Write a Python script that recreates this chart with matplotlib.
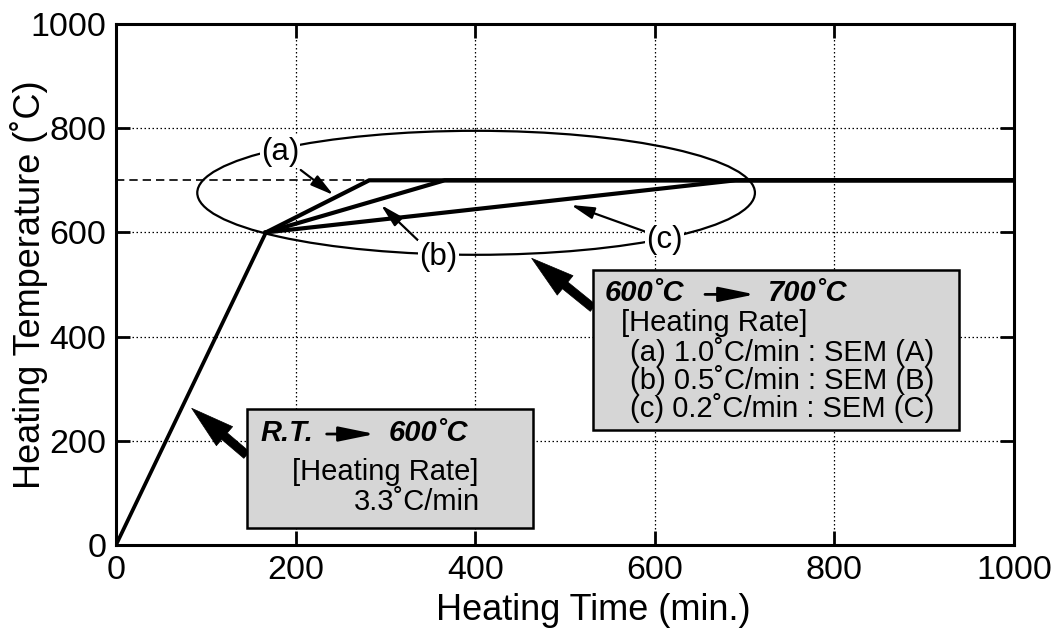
import matplotlib
matplotlib.use('Agg')
import matplotlib.pyplot as plt
from matplotlib.patches import Ellipse, Rectangle, FancyArrowPatch

plt.rcParams['font.family'] = ['Liberation Sans', 'DejaVu Sans']

# ---- data ----
rt_time = [0, 167]            # R.T. -> 600 C
rt_temp = [0, 600]
ramp_start_time = 167
ramp_start_temp = 600
hold_temp = 700
reach_hold_times = [282, 366, 690]   # (a) 1.0, (b) 0.5, (c) 0.2 C/min
hold_end_time = 1000
branch_labels = ['(a)', '(b)', '(c)']
x_ticks = [0, 200, 400, 600, 800, 1000]
y_ticks = [0, 200, 400, 600, 800, 1000]

W, H = 1058, 630
fig = plt.figure(figsize=(W / 100, H / 100), dpi=100)
ax = fig.add_axes([116 / W, 1 - 545 / H, 898 / W, 521 / H])
ax.set_xlim(0, 1000)
ax.set_ylim(0, 1000)
ax.set_xticks(x_ticks)
ax.set_yticks(y_ticks)

for s in ax.spines.values():
    s.set_linewidth(2.2)
    s.set_zorder(10)
ax.tick_params(direction='in', length=10, width=2, top=True, right=True,
               labelsize=24.5, pad=7)
ax.grid(True, color='k', linestyle=(0, (1.2, 2.0)), linewidth=0.9, zorder=0)
ax.set_axisbelow(True)

ax.set_xlabel('Heating Time (min.)', fontsize=26)
ax.set_ylabel('Heating Temperature (˚C)', fontsize=26)
ax.xaxis.set_label_coords(0.532, -0.092)
ax.yaxis.set_label_coords(-0.076, 0.5)

# ---- curves ----
ax.plot(rt_time, rt_temp, color='k', lw=2.7, solid_capstyle='butt', zorder=4)
for t in reach_hold_times:
    ax.plot([ramp_start_time, t, hold_end_time], [ramp_start_temp, hold_temp, hold_temp],
            color='k', lw=3.0, solid_joinstyle='miter', zorder=4)
ax.plot([0, reach_hold_times[0]], [hold_temp, hold_temp], color='k', lw=1.2,
        linestyle=(0, (5, 3)), zorder=3)

# ---- ellipse ----
ax.add_patch(Ellipse((401, 676), 621, 238, fill=False, lw=1.6, ec='k', zorder=3))

# ---- branch labels with arrows ----
label_pos = [(182.6, 754), (359.4, 553.4), (611, 585.4)]
arrow_tail = [(205.7, 719.8), (335.9, 585.4), (589.6, 601.3)]
arrow_tip = [(242.1, 671.8), (295.1, 652.6), (506.7, 652.6)]
for lab, p, a0, a1 in zip(branch_labels, label_pos, arrow_tail, arrow_tip):
    ax.text(p[0], p[1], lab, fontsize=22.5, ha='center', va='center', zorder=6,
            bbox=dict(boxstyle='square,pad=0.04', fc='white', ec='none'))
    ax.annotate('', xy=a1, xytext=a0, zorder=5,
                arrowprops=dict(arrowstyle='-|>,head_length=1.4,head_width=0.36',
                                mutation_scale=10, lw=1.6, color='k',
                                shrinkA=0, shrinkB=0))

# ---- boxes ----
box_fc = '#d6d6d6'
ax.add_patch(Rectangle((145.6, 33.4), 464.4 - 145.6, 261.9 - 33.4, fc=box_fc,
                       ec='k', lw=1.8, zorder=7))
ax.add_patch(Rectangle((531.5, 221.3), 938.8 - 531.5, 528 - 221.3, fc=box_fc,
                       ec='k', lw=1.8, zorder=7))

# big arrows to boxes
for tail, tip in [((531.2, 454.9), (462.9, 550.3)), ((145.5, 172.7), (84.3, 262.4))]:
    ax.add_patch(FancyArrowPatch(tail, tip,
                 arrowstyle='simple,head_length=3.1,head_width=1.8,tail_width=0.62',
                 mutation_scale=10, fc='k', ec='k', lw=0.5, shrinkA=0, shrinkB=0,
                 zorder=6))

fs = 21
hdr = dict(fontsize=fs, fontweight='bold', fontstyle='italic', va='center', zorder=8)
txt = dict(fontsize=fs, va='center', zorder=8)
small_arrow = dict(arrowstyle='-|>,head_length=2.2,head_width=0.45', mutation_scale=10,
                   lw=2.0, color='k', shrinkA=0, shrinkB=0)

# box 1
ax.text(160.4, 215, 'R.T.', ha='left', **hdr)
ax.annotate('', xy=(288.4, 213), xytext=(234.6, 213), zorder=8, arrowprops=small_arrow)
ax.text(304, 215, '600˚C', ha='left', **hdr)
ax.text(195.7, 140.7, '[Heating Rate]', ha='left', **txt)
ax.text(405.3, 83, '3.3˚C/min', ha='right', **txt)

# box 2
ax.text(544.5, 483, '600˚C', ha='left', **hdr)
ax.annotate('', xy=(711.6, 481), xytext=(655.9, 481), zorder=8, arrowprops=small_arrow)
ax.text(726, 483, '700˚C', ha='left', **hdr)
ax.text(562, 425.5, '[Heating Rate]', ha='left', **txt)
ax.text(572.4, 371, '(a) 1.0˚C/min : SEM (A)', ha='left', **txt)
ax.text(572.4, 316.7, '(b) 0.5˚C/min : SEM (B)', ha='left', **txt)
ax.text(572.4, 262.4, '(c) 0.2˚C/min : SEM (C)', ha='left', **txt)

fig.savefig('out.png', dpi=100)
